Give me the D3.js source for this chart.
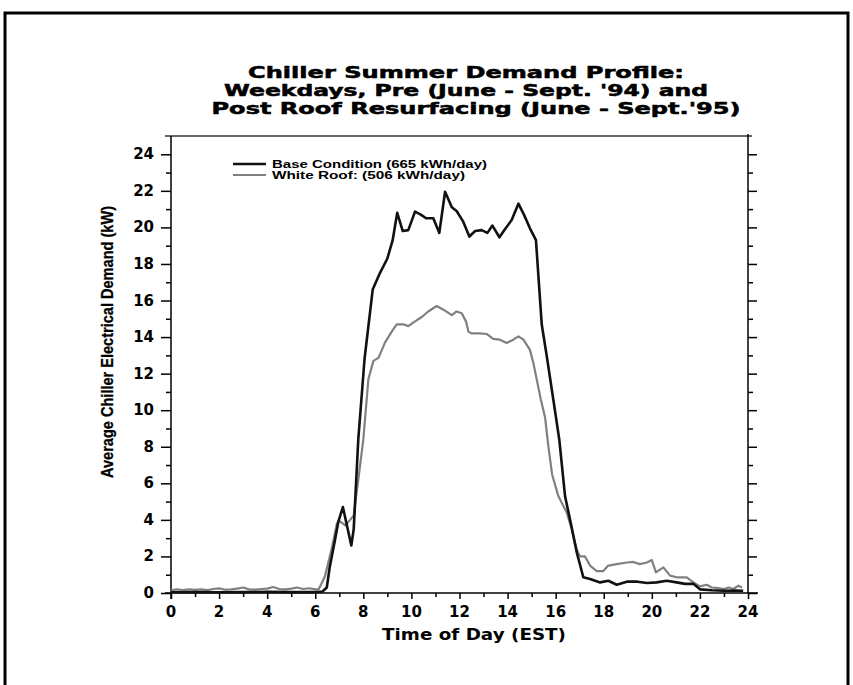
<!DOCTYPE html>
<html>
<head>
<meta charset="utf-8">
<script src="https://cdn.jsdelivr.net/npm/d3@7"></script>
<style>
  body { margin: 0; background: #fff; }
  svg { display: block; }
  .tick-label { font-family: 'DejaVu Sans', sans-serif; font-weight: bold; font-size: 15px; fill: #000; }
</style>
</head>
<body>
<div id="chart"></div>
<script>
// Title lines
const titleLines = [
  'Chiller Summer Demand Profile:',
  'Weekdays, Pre (June - Sept. \'94) and',
  'Post Roof Resurfacing (June - Sept.\'95)'
];

// Legend labels
const seriesNames = ['Base Condition (665 kWh/day)', 'White Roof: (506 kWh/day)'];

// Base condition (black), hour of day / kW
const baseHours = [0, 0.5, 1, 2, 3, 4, 5, 6, 6.3, 6.48, 6.6, 6.82, 6.96, 7.15, 7.5, 7.6, 7.79, 8.05,
  8.39, 8.69, 9.0, 9.22, 9.41, 9.64, 9.87, 10.15, 10.39, 10.61, 10.91, 11.16, 11.4, 11.68, 11.88,
  12.16, 12.41, 12.65, 12.92, 13.16, 13.37, 13.66, 13.89, 14.17, 14.45, 14.68, 14.93, 15.18, 15.42,
  15.63, 15.9, 16.15, 16.39, 16.6, 16.88, 17.15, 17.43, 17.85, 18.19, 18.54, 18.96, 19.4, 19.8,
  20.2, 20.62, 21.03, 21.38, 21.73, 22.0, 22.5, 23.0, 23.5, 23.8];
const baseKW = [0.04, 0.04, 0.05, 0.04, 0.05, 0.06, 0.05, 0.05, 0.08, 0.3, 1.4, 2.9, 3.9, 4.7, 2.6, 3.5, 8.4, 12.8,
  16.6, 17.5, 18.3, 19.3, 20.8, 19.8, 19.85, 20.86, 20.7, 20.5, 20.5, 19.7, 21.95, 21.1, 20.9,
  20.3, 19.5, 19.8, 19.85, 19.7, 20.1, 19.46, 19.9, 20.4, 21.3, 20.7, 19.95, 19.3, 14.7,
  12.95, 10.6, 8.4, 5.3, 4.0, 2.2, 0.86, 0.77, 0.58, 0.67, 0.45, 0.62, 0.62, 0.55,
  0.58, 0.67, 0.58, 0.5, 0.5, 0.2, 0.15, 0.12, 0.14, 0.12];

// White roof (grey), hour of day / kW
const roofHours = [0, 0.25, 0.5, 0.75, 1, 1.25, 1.5, 1.75, 2, 2.25, 2.5, 2.75, 3, 3.25, 3.5, 3.75,
  4, 4.25, 4.5, 4.75, 5, 5.25, 5.5, 5.75, 6, 6.15, 6.4, 6.68, 6.9, 7.0, 7.25, 7.45, 7.6, 7.8, 8.0,
  8.21, 8.42, 8.63, 8.9, 9.18, 9.39, 9.66, 9.87, 10.15, 10.43, 10.7, 11.05, 11.33, 11.68, 11.88,
  12.09, 12.27, 12.37, 12.51, 12.85, 13.13, 13.4, 13.68, 13.96, 14.24, 14.45, 14.66, 14.93, 15.07,
  15.21, 15.38, 15.56, 15.7, 15.85, 16.11, 16.46, 16.67, 16.87, 17.01, 17.22, 17.43, 17.71, 17.98,
  18.19, 18.54, 18.96, 19.23, 19.5, 19.79, 20.0, 20.17, 20.48, 20.76, 21.03, 21.45, 21.73, 22.0,
  22.28, 22.5, 22.7, 23.0, 23.2, 23.4, 23.6, 23.75];
const roofKW = [0.15, 0.2, 0.16, 0.2, 0.17, 0.2, 0.16, 0.22, 0.25, 0.18, 0.2, 0.24, 0.3, 0.2, 0.18, 0.22,
  0.24, 0.33, 0.22, 0.2, 0.24, 0.3, 0.22, 0.26, 0.2, 0.22, 0.9, 2.4, 3.8, 3.95, 3.7, 4.0, 4.25, 6.3, 8.4,
  11.7, 12.7, 12.86, 13.7, 14.3, 14.7, 14.7, 14.6, 14.86, 15.1, 15.4, 15.7, 15.5, 15.2, 15.4,
  15.3, 14.86, 14.3, 14.2, 14.2, 14.17, 13.9, 13.86, 13.68, 13.86, 14.04, 13.86, 13.3, 12.6,
  11.7, 10.6, 9.6, 8.0, 6.5, 5.3, 4.4, 3.5, 2.4, 2.0, 2.0, 1.5, 1.2, 1.2,
  1.5, 1.58, 1.67, 1.7, 1.58, 1.67, 1.8, 1.13, 1.4, 0.95, 0.86, 0.86, 0.58, 0.36,
  0.45, 0.3, 0.28, 0.22, 0.3, 0.22, 0.4, 0.3];

const xTicks = d3.range(0, 25, 2);
const yTicks = d3.range(0, 25, 2);

const width = 853;
const height = 685;
const plot = { left: 171, right: 748, top: 136, bottom: 593 };

const svg = d3.select('#chart').append('svg')
    .attr('width', width)
    .attr('height', height);

// Outer page frame
svg.append('path')
    .attr('d', 'M5,690 V13 H848 V690')
    .attr('fill', 'none')
    .attr('stroke', '#000')
    .attr('stroke-width', 3);

// Title, heavy face approximated with a thin outline
svg.append('g')
    .selectAll('text')
    .data(titleLines)
  .enter().append('text')
    .attr('x', (d, i) => [466, 466, 476][i])
    .attr('y', (d, i) => 78 + i * 18)
    .attr('text-anchor', 'middle')
    .attr('textLength', (d, i) => [436, 484, 529][i])
    .attr('lengthAdjust', 'spacingAndGlyphs')
    .attr('stroke', '#000')
    .attr('stroke-width', 0.5)
    .style('font-family', "'DejaVu Sans', sans-serif")
    .style('font-weight', 'bold')
    .style('font-size', '15px')
    .text(d => d);

const x = d3.scaleLinear().domain([0, 24]).range([plot.left, plot.right]);
const y = d3.scaleLinear().domain([0, 25]).range([plot.bottom, plot.top]);

// Top frame line
svg.append('line')
    .attr('x1', plot.left - 6).attr('x2', plot.right + 4)
    .attr('y1', plot.top).attr('y2', plot.top)
    .attr('stroke', '#333').attr('stroke-width', 1.5);

// Left axis
const yAxisLeft = svg.append('g')
    .attr('transform', `translate(${plot.left},0)`)
    .call(d3.axisLeft(y).tickValues(d3.range(0, 25, 1)).tickSize(5).tickFormat(''));
yAxisLeft.selectAll('.tick line')
    .attr('x2', d => (d % 2 === 0 ? -10 : -5));
yAxisLeft.select('.domain').attr('d', `M0,${plot.top}V${plot.bottom + 6}`);

// Right axis
const yAxisRight = svg.append('g')
    .attr('transform', `translate(${plot.right},0)`)
    .call(d3.axisRight(y).tickValues(d3.range(0, 25, 1)).tickSize(5).tickFormat(''));
yAxisRight.selectAll('.tick line')
    .attr('x2', d => (d % 2 === 0 ? 9 : 5));
yAxisRight.select('.domain').attr('d', `M0,${plot.top - 2}V${plot.bottom}`);

// Bottom axis
const xAxis = svg.append('g')
    .attr('transform', `translate(0,${plot.bottom})`)
    .call(d3.axisBottom(x).tickValues(d3.range(0, 25, 1)).tickSize(4).tickFormat(''));
xAxis.selectAll('.tick line')
    .attr('y2', d => (d % 2 === 0 ? 6 : 4));
xAxis.select('.domain').attr('d', `M${plot.left - 6},0H${plot.right + 10}`);

svg.selectAll('.domain, .tick line')
    .attr('stroke', '#000')
    .attr('stroke-width', 1.5);

// Tick labels
svg.append('g')
    .selectAll('text')
    .data(yTicks)
  .enter().append('text')
    .attr('class', 'tick-label')
    .attr('x', plot.left - 17)
    .attr('y', d => y(d) + 5)
    .attr('text-anchor', 'end')
    .text(d => d);

svg.append('g')
    .selectAll('text')
    .data(xTicks)
  .enter().append('text')
    .attr('class', 'tick-label')
    .attr('x', d => x(d))
    .attr('y', plot.bottom + 24)
    .attr('text-anchor', 'middle')
    .text(d => d);

// Axis titles
svg.append('text')
    .attr('transform', 'translate(113,342) rotate(-90)')
    .attr('text-anchor', 'middle')
    .attr('textLength', 272)
    .attr('lengthAdjust', 'spacingAndGlyphs')
    .attr('stroke', '#000')
    .attr('stroke-width', 0.3)
    .style('font-family', "'Liberation Sans Narrow', 'Liberation Sans', sans-serif")
    .style('font-weight', 'bold')
    .style('font-size', '17px')
    .text('Average Chiller Electrical Demand (kW)');

svg.append('text')
    .attr('x', 474)
    .attr('y', 640)
    .attr('text-anchor', 'middle')
    .attr('textLength', 184)
    .attr('lengthAdjust', 'spacingAndGlyphs')
    .style('font-family', "'DejaVu Sans', sans-serif")
    .style('font-weight', 'bold')
    .style('font-size', '15px')
    .text('Time of Day (EST)');

// Series lines
const line = d3.line()
    .x(d => x(d[0]))
    .y(d => y(d[1]));

const roofData = roofHours.map((h, i) => [h, roofKW[i]]);
const baseData = baseHours.map((h, i) => [h, baseKW[i]]);

svg.append('path')
    .datum(roofData)
    .attr('d', line)
    .attr('fill', 'none')
    .attr('stroke', '#808080')
    .attr('stroke-width', 2.2)
    .attr('stroke-linejoin', 'round');

svg.append('path')
    .datum(baseData)
    .attr('d', line)
    .attr('fill', 'none')
    .attr('stroke', '#111')
    .attr('stroke-width', 2.6)
    .attr('stroke-linejoin', 'round');

// Legend
const legend = svg.append('g')
    .selectAll('g')
    .data(seriesNames)
  .enter().append('g')
    .attr('transform', (d, i) => `translate(233,${164 + i * 11})`);

legend.append('line')
    .attr('x1', 0).attr('x2', 33)
    .attr('stroke', (d, i) => (i === 0 ? '#111' : '#808080'))
    .attr('stroke-width', (d, i) => (i === 0 ? 2.4 : 2));

legend.append('text')
    .attr('x', 39)
    .attr('y', 4)
    .attr('textLength', (d, i) => [215, 193][i])
    .attr('lengthAdjust', 'spacingAndGlyphs')
    .style('font-family', "'Liberation Sans', sans-serif")
    .style('font-weight', 'bold')
    .style('font-size', '11px')
    .text(d => d);
</script>
</body>
</html>
